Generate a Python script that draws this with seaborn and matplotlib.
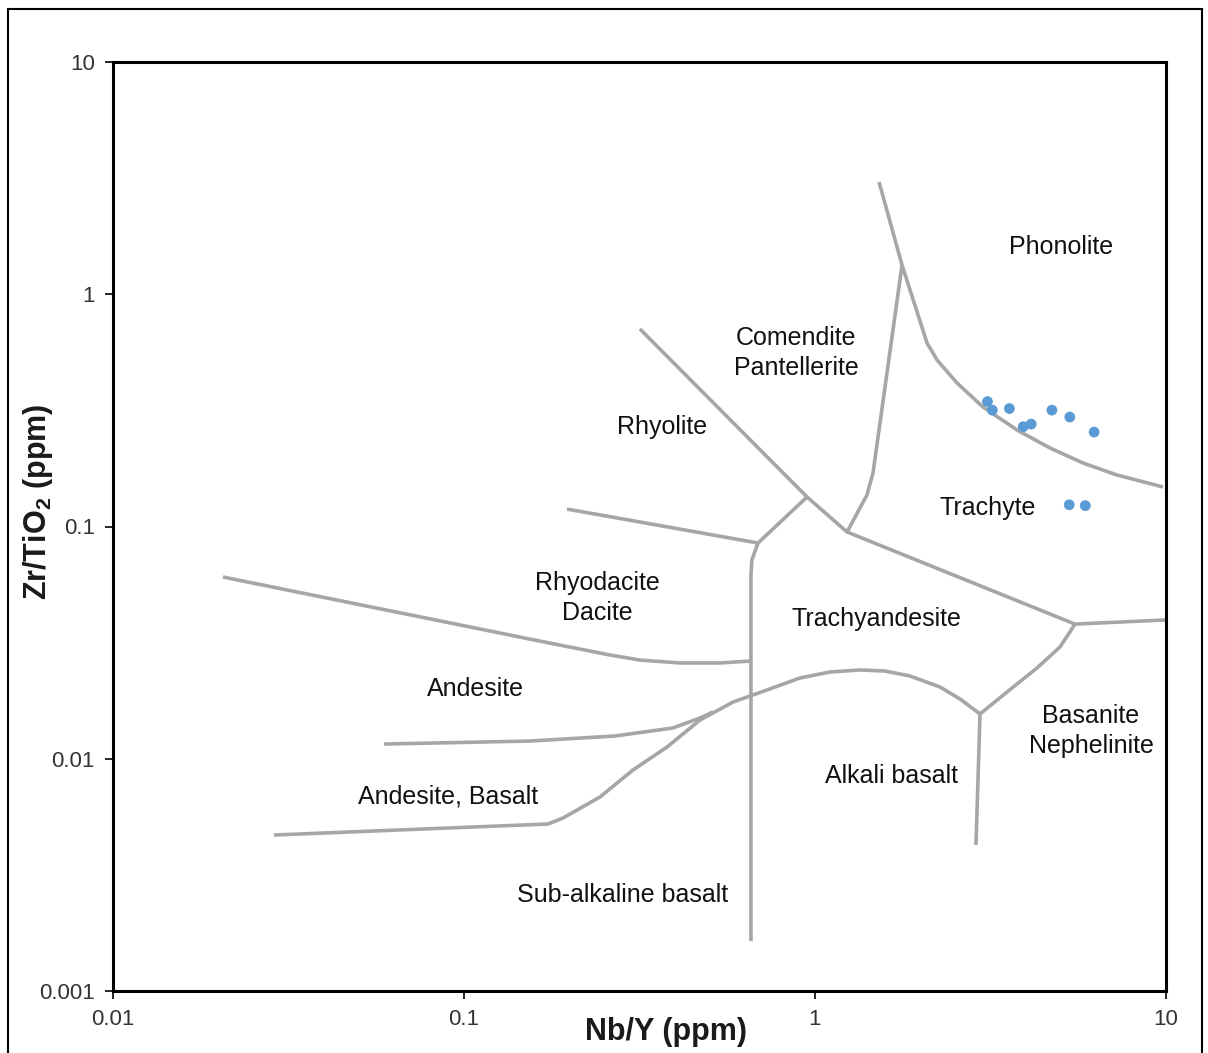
import numpy as np
import matplotlib
matplotlib.use("Agg")
import matplotlib.pyplot as plt
import seaborn as sns
from matplotlib.patches import Rectangle

# Sample compositions (Nb/Y, Zr/TiO2)
nb_y = [3.10, 3.20, 3.58, 3.92, 4.13, 4.73, 5.32, 6.24, 5.30, 5.89]
zr_ti = [0.345, 0.317, 0.322, 0.269, 0.276, 0.317, 0.296, 0.255, 0.124, 0.123]

# Field boundaries of the Winchester & Floyd diagram (Nb/Y, Zr/TiO2)
rhyolite_x = [0.317, 0.949, 1.234, 5.505, 10.0]
rhyolite_y = [0.709, 0.134, 0.0947, 0.0380, 0.0396]

rhyodacite_x = [0.1965, 0.688, 0.949]
rhyodacite_y = [0.1189, 0.0849, 0.134]

subalk_x = [0.688, 0.661, 0.657, 0.657]
subalk_y = [0.0849, 0.0718, 0.0618, 0.00164]

comendite_x = [1.234, 1.406, 1.463, 1.770]
comendite_y = [0.0947, 0.1367, 0.170, 1.336]

phonolite_x = [1.522, 1.770, 2.085, 2.227, 2.539, 3.010, 3.763, 4.672, 5.801, 7.252, 9.806]
phonolite_y = [3.043, 1.336, 0.617, 0.521, 0.4148, 0.327, 0.2603, 0.2178, 0.1877, 0.1666, 0.148]

dacite_x = [0.02058, 0.1646, 0.2606, 0.317, 0.4125, 0.5363, 0.657]
dacite_y = [0.0606, 0.0321, 0.02797, 0.0266, 0.02585, 0.02585, 0.02636]

andesite_x = [0.0592, 0.1542, 0.2693, 0.3938, 0.4703, 0.5123]
andesite_y = [0.01157, 0.01192, 0.01253, 0.01357, 0.01498, 0.0159]

basalt_x = [0.02876, 0.1735, 0.1915, 0.2441, 0.3030, 0.3788, 0.4703, 0.5841,
            0.7297, 0.9064, 1.103, 1.344, 1.582, 1.865, 2.270, 2.589, 2.952]
basalt_y = [0.004695, 0.005237, 0.005557, 0.006845, 0.008946, 0.01123, 0.01468,
            0.01755, 0.01977, 0.02227, 0.02363, 0.02411, 0.02387, 0.02271,
            0.02037, 0.01809, 0.01559]

basanite_x = [2.952, 3.524, 4.290, 4.989, 5.505]
basanite_y = [0.01559, 0.01938, 0.02459, 0.03029, 0.0380]

alkali_x = [2.952, 2.875]
alkali_y = [0.01559, 0.004252]

boundaries = [
    (rhyolite_x, rhyolite_y), (rhyodacite_x, rhyodacite_y), (subalk_x, subalk_y),
    (comendite_x, comendite_y), (phonolite_x, phonolite_y), (dacite_x, dacite_y),
    (andesite_x, andesite_y), (basalt_x, basalt_y), (basanite_x, basanite_y),
    (alkali_x, alkali_y),
]

# Rock-type field names and their positions
field_names = ["Phonolite", "Comendite\nPantellerite", "Rhyolite", "Trachyte",
               "Rhyodacite\nDacite", "Trachyandesite", "Andesite",
               "Basanite\nNephelinite", "Alkali basalt", "Andesite, Basalt",
               "Sub-alkaline basalt"]
field_x = [5.02, 0.883, 0.3665, 3.11, 0.2393, 1.492, 0.1075, 6.112, 1.657, 0.090, 0.2838]
field_y = [1.597, 0.558, 0.268, 0.1201, 0.0492, 0.040, 0.01997, 0.01317, 0.00843, 0.00685, 0.00259]

x_ticks = [0.01, 0.1, 1, 10]
x_tick_labels = ["0.01", "0.1", "1", "10"]
y_ticks = [0.001, 0.01, 0.1, 1, 10]
y_tick_labels = ["0.001", "0.01", "0.1", "1", "10"]

sns.set_theme(style="white")
plt.rcParams["font.family"] = ["Liberation Sans", "DejaVu Sans"]
plt.rcParams["mathtext.fontset"] = "custom"
plt.rcParams["mathtext.rm"] = "Liberation Sans"
plt.rcParams["mathtext.bf"] = "Liberation Sans:bold"

fig = plt.figure(figsize=(12.08, 10.53), dpi=100)
ax = fig.add_axes([113 / 1208, 1 - 991 / 1053, (1166 - 113) / 1208, (991 - 62) / 1053])

line_color = "#A6A6A6"
for bx, by in boundaries:
    sns.lineplot(x=bx, y=by, sort=False, estimator=None, color=line_color,
                 linewidth=2.6, ax=ax, solid_joinstyle="round", solid_capstyle="butt")

sns.scatterplot(x=nb_y, y=zr_ti, color="#5B9BD5", s=60, edgecolor="none", ax=ax, zorder=5)

for name, fx, fy in zip(field_names, field_x, field_y):
    ax.text(fx, fy, name, ha="center", va="center", fontsize=18,
            color="#111111", linespacing=1.35)

ax.set_xscale("log")
ax.set_yscale("log")
ax.set_xlim(0.01, 10)
ax.set_ylim(0.001, 10)
ax.set_xticks(x_ticks)
ax.set_xticklabels(x_tick_labels)
ax.set_yticks(y_ticks)
ax.set_yticklabels(y_tick_labels)
ax.minorticks_off()
ax.tick_params(axis="both", which="major", direction="out", length=6, width=1.2,
               color="black", labelsize=16, labelcolor="#333333", pad=7,
               bottom=True, left=True)

for sp in ax.spines.values():
    sp.set_color("black")
    sp.set_linewidth(2.2)

ax.set_xlabel("Nb/Y (ppm)", fontsize=22, fontweight="bold", color="#1a1a1a",
              va="center", ha="center")
ax.xaxis.set_label_coords(0.525, -(1032 - 991) / 929)
ax.set_ylabel(r"Zr/TiO$_\mathbf{2}$ (ppm)", fontsize=22, fontweight="bold",
              color="#1a1a1a", va="center", ha="center")
ax.yaxis.set_label_coords(-(113 - 38) / 1053, (991 - 502) / 929)

# Frame around the whole chart
fig.patches.append(Rectangle((8 / 1208, -0.01), (1202 - 8) / 1208, 1 - 9 / 1053 + 0.01,
                             transform=fig.transFigure, fill=False,
                             edgecolor="black", linewidth=1.5))

fig.savefig("out.png", dpi=100)
